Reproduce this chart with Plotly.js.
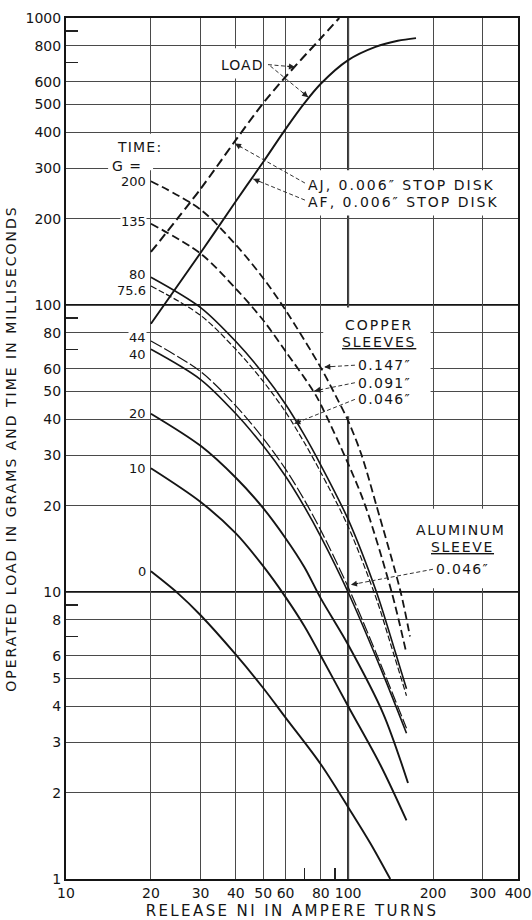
<!DOCTYPE html>
<html><head><meta charset="utf-8">
<script src="https://cdn.plot.ly/plotly-3.0.1.min.js"></script>
<style>html,body{margin:0;padding:0;background:#fff;} #chart{width:532px;height:920px;}</style>
</head><body><div id="chart"></div>
<script>
// ---------- data ----------
const xTickVals = [10,20,30,40,50,60,80,100,200,300,400];
const yTickVals = [1,2,3,4,5,6,8,10,20,30,40,50,60,80,100,200,300,400,500,600,800,1000];
const xMinorTicks = [70,90];
const yMinorTicks = [7,9,70,90,700,900];

// operated load (grams) vs release NI
const niLoadAJ = [20,30,40,50,60,80,93];
const loadAJ   = [153,254,376,505,624,850,1000];
const niLoadAF = [20,30,40,50,60,70,80,100,125,150,174];
const loadAF   = [86,152,230,315,410,505,590,713,793,833,851];

// release time (ms) vs release NI, one curve per G value
const gLabels = ['200','135','80','75.6','44','40','20','10','0'];
const niG200 = [20,30,40,50,60,80,92,100,111.6,126,153.5,165.6];
const timeG200 = [270,215,162,124,96,60.5,46.6,39.5,30,20,10,7.0];
const niG135 = [20,30,40,50,60,75,80,100,115,142.6,161];
const timeG135 = [192,151,114,88.5,69,50.4,45,28,20,10,6.1];
const niG80 = [20,30,40,50,60,70,80,100,126,141,161];
const timeG80 = [125,98,74.6,57.7,45.1,35.2,27.7,17.9,10,7.06,4.6];
const niG75 = [20,30,40,50,60,70,80,100,126,141,161];
const timeG75 = [116.5,92,70,54.2,42.4,33.1,26.1,16.9,9.45,6.65,4.35];
const niG44 = [20,30,40,50,60,70,80,100,130,161];
const timeG44 = [74.9,58.6,44.5,34.3,26.8,20.9,16.4,10.4,5.65,3.35];
const niG40 = [20,30,40,50,60,70,80,100,130,161];
const timeG40 = [70.1,55,41.8,32.3,25.3,19.8,15.6,9.98,5.46,3.22];
const niG20 = [20,30,40,50,60,70,80,100,133,163];
const timeG20 = [41.8,32.3,25.0,19.6,15.4,12.2,9.5,6.55,3.78,2.16];
const niG10 = [20,30,40,50,60,70,80,100,130,161];
const timeG10 = [27,20.6,16.0,12.3,9.6,7.6,6.0,4.0,2.5,1.6];
const niG0 = [20,25,30,40,50,60,80,100,120,141];
const timeG0 = [11.8,9.87,8.3,6.05,4.63,3.65,2.51,1.78,1.33,1.0];

// ---------- build ----------
const INK = '#151515';
const L = Math.log10;
const sp = (t, ls) => '<span style="letter-spacing:' + ls + 'px">' + t + '</span>';

function line(x, y, name, width, dash) {
  return {x: x, y: y, name: name, type: 'scatter', mode: 'lines', hoverinfo: 'skip',
    line: {color: INK, width: width, dash: dash || 'solid', shape: 'spline', smoothing: 0.9}};
}
const timeSeries = [
  [niG200, timeG200, 1.8, '8px,4px'],
  [niG135, timeG135, 1.8, '8px,4px'],
  [niG80,  timeG80,  1.6, 'solid'],
  [niG75,  timeG75,  1.2, '6px,2.5px'],
  [niG44,  timeG44,  1.2, '12px,3px'],
  [niG40,  timeG40,  1.6, 'solid'],
  [niG20,  timeG20,  1.9, 'solid'],
  [niG10,  timeG10,  1.9, 'solid'],
  [niG0,   timeG0,   1.9, 'solid']
];
const traces = [
  line(niLoadAJ, loadAJ, 'AJ load', 2, '9px,4.5px'),
  line(niLoadAF, loadAF, 'AF load', 1.9, 'solid')
];
timeSeries.forEach((s, i) => traces.push(line(s[0], s[1], 'G=' + gLabels[i], s[2], s[3])));

// annotations: G labels at each curve start
const annotations = [];
const gShift = [0, 2, 3, -5, 4, -5, 0, 0, 0];
const gBg = [false, true, false, false, true, false, false, false, false];
timeSeries.forEach((s, i) => {
  annotations.push({x: L(s[0][0]), y: L(s[1][0]), text: gLabels[i], showarrow: false,
    xanchor: 'right', yanchor: 'middle', xshift: -4, yshift: gShift[i],
    bgcolor: gBg[i] ? '#fff' : 'rgba(0,0,0,0)', borderpad: 0,
    font: {size: 13, color: INK}});
});

const notes = [
  ['LOAD', 50.7, 684, 'right', 1],
  ['TIME:', 14.9, 354.5, 'left', 1.2],
  ['G =', 14.3, 304, 'left', 1],
  ['AJ, 0.006\u2033 STOP DISK', 70.9, 261.3, 'left', 2],
  ['AF, 0.006\u2033 STOP DISK', 70.9, 228.8, 'left', 2],
  ['COPPER', 128.6, 85, 'center', 2],
  ['<u>SLEEVES</u>', 129, 74.5, 'center', 1.8],
  ['0.147\u2033', 106.6, 61.7, 'left', 1.3],
  ['0.091\u2033', 106.6, 53.6, 'left', 1.3],
  ['0.046\u2033', 106.6, 46.9, 'left', 1.3],
  ['ALUMINUM', 251, 16.4, 'center', 1.7],
  ['<u>SLEEVE</u>', 255, 14.4, 'center', 1.7],
  ['0.046\u2033', 201.4, 12.0, 'left', 1.3]
];
notes.forEach(n => annotations.push({x: L(n[1]), y: L(n[2]), text: sp(n[0], n[4]),
  showarrow: false, xanchor: n[3], yanchor: 'middle', font: {size: 14, color: INK}}));

// leader lines (dashed) + arrowheads
const leaders = [
  [[52, 688], [64.8, 675]],
  [[53, 680], [72.2, 530]],
  [[70.3, 266], [39.7, 365]],
  [[70.3, 232], [46.1, 275]],
  [[105.7, 61.7], [82.3, 60.8]],
  [[105.7, 53.6], [75.9, 50.2]],
  [[105.7, 46.9], [64.4, 38.6]],
  [[199.8, 12.0], [102.3, 10.6]]
];
const pxX = 452 / L(40), pxY = 861 / 3;
const shapes = [];
// heavier decade lines
shapes.push({type: 'line', xref: 'paper', x0: 0, x1: 1, yref: 'y', y0: 10, y1: 10, layer: 'between', line: {color: INK, width: 2}});
shapes.push({type: 'line', xref: 'paper', x0: 0, x1: 1, yref: 'y', y0: 100, y1: 100, layer: 'between', line: {color: INK, width: 2}});
shapes.push({type: 'line', yref: 'paper', y0: 0, y1: 1, xref: 'x', x0: 100, x1: 100, layer: 'between', line: {color: INK, width: 2}});
// white knock-out panels behind the lettering
const panels = [[14.1, 20.35, 295, 395], [34.6, 48, 615, 785], [62, 399, 205, 295], [81.6, 196, 41, 98], [102, 399, 10.3, 19.5]];
panels.forEach(p => shapes.push({type: 'rect', xref: 'x', yref: 'y', x0: p[0], x1: p[1], y0: p[2], y1: p[3],
  layer: 'between', fillcolor: '#fff', line: {width: 0}}));
leaders.forEach(ld => {
  const t = ld[0], h = ld[1];
  shapes.push({type: 'line', xref: 'x', yref: 'y', x0: t[0], y0: t[1], x1: h[0], y1: h[1], layer: 'above',
    line: {color: '#333', width: 1, dash: '4px,2.5px'}});
  const dx = (L(t[0]) - L(h[0])) * pxX, dy = -(L(t[1]) - L(h[1])) * pxY;
  const len = Math.hypot(dx, dy);
  annotations.push({x: L(h[0]), y: L(h[1]), text: '', showarrow: true, arrowhead: 2, arrowsize: 1.1,
    arrowwidth: 1.1, arrowcolor: '#222', ax: 9 * dx / len, ay: 9 * dy / len, standoff: 0});
});

const axisBase = {
  type: 'log', tickmode: 'array', ticks: '', showgrid: true, gridcolor: '#4a4a4a', gridwidth: 1,
  showline: true, linecolor: INK, linewidth: 2, mirror: true, zeroline: false, fixedrange: true,
  tickfont: {size: 14, color: INK}
};
const layout = {
  width: 532, height: 920,
  margin: {l: 66, r: 14, t: 18, b: 41},
  paper_bgcolor: '#fff', plot_bgcolor: '#fff', showlegend: false,
  font: {family: '"DejaVu Sans", sans-serif', color: INK, size: 14},
  xaxis: Object.assign({}, axisBase, {
    range: [1, L(400)], tickvals: xTickVals, ticktext: xTickVals.map(String),
    minor: {tickmode: 'array', tickvals: xMinorTicks, ticks: 'inside', ticklen: 11, tickwidth: 1.5, tickcolor: '#222', showgrid: false},
    title: {text: sp('RELEASE NI IN AMPERE TURNS', 2.4), font: {size: 15, color: INK}, standoff: 6}
  }),
  yaxis: Object.assign({}, axisBase, {
    range: [0, 3], tickvals: yTickVals, ticktext: yTickVals.map(String),
    minor: {tickmode: 'array', tickvals: yMinorTicks, ticks: 'inside', ticklen: 12, tickwidth: 1.5, tickcolor: '#222', showgrid: false},
    title: {text: sp('OPERATED LOAD IN GRAMS AND TIME IN MILLISECONDS', 2), font: {size: 14, color: INK}, standoff: 6}
  }),
  shapes: shapes,
  annotations: annotations
};
Plotly.newPlot('chart', traces, layout, {staticPlot: true, displayModeBar: false});
</script></body></html>
